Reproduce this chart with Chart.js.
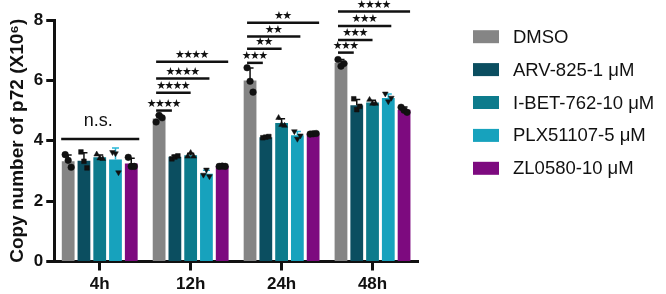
<!DOCTYPE html>
<html>
<head>
<meta charset="utf-8">
<script src="https://cdn.jsdelivr.net/npm/chart.js@4.4.1/dist/chart.umd.min.js"></script>
<style>
  body { margin: 0; background: #fff; }
  canvas { display: block; }
</style>
</head>
<body>
<canvas id="p72Chart" width="666" height="294"></canvas>
<script>
const timePoints = ['4h', '12h', '24h', '48h'];
const treatments = ['DMSO', 'ARV-825-1 μM', 'I-BET-762-10 μM', 'PLX51107-5 μM', 'ZL0580-10 μM'];

// bar heights (means), copy number x10^6
const dmso = [3.32, 4.74, 6.00, 6.58];
const arv825 = [3.34, 3.47, 4.12, 5.18];
const ibet762 = [3.45, 3.52, 4.59, 5.27];
const plx51107 = [3.38, 2.91, 4.18, 5.42];
const zl0580 = [3.25, 3.16, 4.23, 5.03];

// individual replicates per time point
const dmsoReps = [[3.54, 3.35, 3.12], [4.62, 4.84, 4.76], [6.42, 5.97, 5.61], [6.69, 6.47, 6.56]];
const arv825Reps = [[3.63, 3.32, 3.10], [3.40, 3.46, 3.50], [4.10, 4.12, 4.14], [5.39, 5.03, 5.14]];
const ibet762Reps = [[3.55, 3.42, 3.40], [3.48, 3.60, 3.48], [4.76, 4.53, 4.50], [5.36, 5.23, 5.23]];
const plx51107Reps = [[3.62, 3.58, 2.95], [2.87, 3.04, 2.82], [4.31, 4.06, 4.17], [5.56, 5.30, 5.42]];
const zl0580Reps = [[3.45, 3.15, 3.15], [3.15, 3.16, 3.15], [4.22, 4.23, 4.24], [5.11, 5.01, 4.94]];

// significance vs DMSO: [time index, treatment index, bracket level, label]
const sigBrackets = [
    [1, 1, 5.00, '****'], [1, 2, 5.59, '****'], [1, 3, 6.06, '****'], [1, 4, 6.62, '****'],
    [2, 1, 6.58, '***'], [2, 2, 7.05, '**'], [2, 3, 7.45, '**'], [2, 4, 7.91, '**'],
    [3, 1, 6.92, '***'], [3, 2, 7.34, '***'], [3, 3, 7.80, '***'], [3, 4, 8.28, '****']
];
const nsBracket = [0, 4.06, 'n.s.'];

const yTicks = [0, 2, 4, 6, 8];

const colors = ['#858585', '#0b4e60', '#0d7b8c', '#17a2bd', '#7d0a7f'];
const errColors = ['#111', '#111', '#111', '#29b6d6', '#111'];
const markers = ['circle', 'rect', 'triangle', 'triangle', 'circle'];
const markerRot = [0, 0, 0, 180, 0];
const jitter = [-3, 0, 3];
const FONT = "'Liberation Sans', Arial, sans-serif";

const series = [dmso, arv825, ibet762, plx51107, zl0580];
const reps = [dmsoReps, arv825Reps, ibet762Reps, plx51107Reps, zl0580Reps];

function sd(arr) {
    const m = arr.reduce((a, b) => a + b, 0) / arr.length;
    return Math.sqrt(arr.reduce((a, b) => a + (b - m) * (b - m), 0) / (arr.length - 1));
}

const overlay = {
    id: 'overlay',
    afterDatasetsDraw(chart) {
        const ctx = chart.ctx;
        const y = chart.scales.y;
        ctx.save();
        // error bars (upper) and replicate points
        chart.data.datasets.forEach((ds, di) => {
            const meta = chart.getDatasetMeta(di);
            meta.data.forEach((bar, ti) => {
                const top = y.getPixelForValue(ds.data[ti] + sd(reps[di][ti]));
                const base = y.getPixelForValue(ds.data[ti]);
                ctx.strokeStyle = errColors[di];
                ctx.lineWidth = 1.5;
                ctx.beginPath();
                ctx.moveTo(bar.x, base);
                ctx.lineTo(bar.x, top);
                ctx.moveTo(bar.x - 3.5, top);
                ctx.lineTo(bar.x + 3.5, top);
                ctx.stroke();
                ctx.fillStyle = '#111';
                ctx.strokeStyle = '#111';
                ctx.lineWidth = 0.5;
                reps[di][ti].forEach((v, k) => {
                    Chart.helpers.drawPoint(ctx, {
                        pointStyle: markers[di], radius: 3.3, rotation: markerRot[di], borderWidth: 0.5
                    }, bar.x + jitter[k], y.getPixelForValue(v));
                });
            });
        });
        // significance brackets
        ctx.fillStyle = '#111';
        ctx.strokeStyle = '#111';
        ctx.lineWidth = 2.5;
        sigBrackets.forEach(([ti, di, lvl, label]) => {
            const x0 = chart.getDatasetMeta(0).data[ti].x - 3;
            const x1 = chart.getDatasetMeta(di).data[ti].x + 3 * (di - 2);
            const py = y.getPixelForValue(lvl);
            ctx.beginPath();
            ctx.moveTo(x0, py);
            ctx.lineTo(x1, py);
            ctx.stroke();
            ctx.font = "11px 'DejaVu Sans'";
            ctx.textAlign = 'center';
            ctx.textBaseline = 'middle';
            const cx = (x0 + x1) / 2;
            const n = label.length;
            for (let s = 0; s < n; s++) {
                ctx.fillText('★', cx + (s - (n - 1) / 2) * 8.2, py - 6.5);
            }
        });
        // n.s. line across the 4h group
        const [nti, nlvl, nlabel] = nsBracket;
        const nx0 = chart.getDatasetMeta(0).data[nti].x - 7;
        const nx1 = chart.getDatasetMeta(4).data[nti].x + 8;
        const ny = y.getPixelForValue(nlvl);
        ctx.beginPath();
        ctx.moveTo(nx0, ny);
        ctx.lineTo(nx1, ny);
        ctx.stroke();
        ctx.font = '18px ' + FONT;
        ctx.textAlign = 'center';
        ctx.textBaseline = 'middle';
        ctx.fillText(nlabel, (nx0 + nx1) / 2 - 2, ny - 18);
        // legend
        ctx.textAlign = 'left';
        ctx.font = '18.5px ' + FONT;
        treatments.forEach((t, i) => {
            const cy = 36.7 + 32.9 * i;
            ctx.fillStyle = colors[i];
            ctx.fillRect(473, cy - 6.5, 26, 13);
            ctx.fillStyle = '#111';
            ctx.fillText(t, 513, cy + 1);
        });
        ctx.restore();
    }
};

const ctx = document.getElementById('p72Chart').getContext('2d');
new Chart(ctx, {
    type: 'bar',
    data: {
        labels: timePoints,
        datasets: treatments.map((t, i) => ({
            label: t,
            data: series[i],
            backgroundColor: colors[i],
            categoryPercentage: 0.867,
            barPercentage: 0.81
        }))
    },
    options: {
        responsive: false,
        animation: false,
        layout: { padding: { top: 20, right: 248, left: 6, bottom: 0 } },
        plugins: { legend: { display: false }, tooltip: { enabled: false } },
        scales: {
            x: {
                afterFit(axis) { axis.height = 32.5; },
                grid: { offset: false, drawOnChartArea: false, tickLength: 9, tickWidth: 3, color: '#111' },
                border: { width: 3, color: '#111' },
                ticks: { color: '#111', font: { family: FONT, size: 17, weight: 'bold' }, padding: 4 }
            },
            y: {
                min: 0,
                max: 8,
                afterBuildTicks(axis) { axis.ticks = yTicks.map(v => ({ value: v })); },
                grid: { drawOnChartArea: false, tickLength: 8, tickWidth: 3, color: '#111' },
                border: { width: 3, color: '#111' },
                ticks: { color: '#111', font: { family: FONT, size: 17, weight: 'bold' }, padding: 3 },
                title: {
                    display: true,
                    text: 'Copy number of p72 (X10⁶)',
                    color: '#111',
                    font: { family: FONT, size: 19, weight: 'bold' },
                    padding: { top: 0, bottom: 2 }
                }
            }
        }
    },
    plugins: [overlay]
});
</script>
</body>
</html>
